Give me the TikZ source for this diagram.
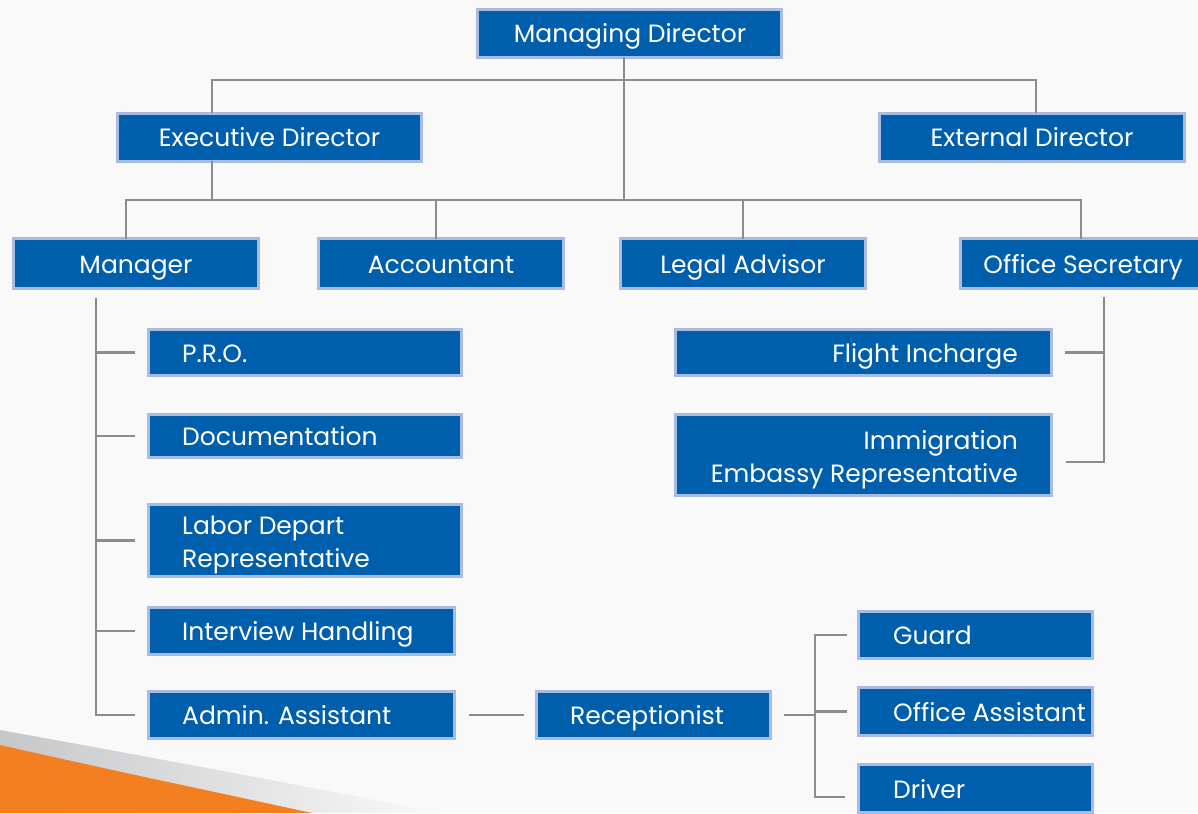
\documentclass[tikz,border=0pt]{standalone}
\usepackage{fontspec}
\setmainfont{Poppins}
\definecolor{bg}{HTML}{F9F9F9}
\definecolor{boxblue}{HTML}{005FAD}
\definecolor{boxborder}{HTML}{A8BBE0}
\definecolor{linegray}{HTML}{8C8C8C}
\definecolor{orng}{HTML}{F47F20}
\definecolor{swoosh}{HTML}{C6C7C9}
\begin{document}
\begin{tikzpicture}[x=1pt,y=-1pt,
  box/.style={draw=boxborder, line width=3pt, fill=boxblue, inner sep=0pt, outer sep=0pt},
  lbl/.style={text=white, font=\fontsize{25}{33}\selectfont, inner sep=0pt},
  conn/.style={draw=linegray, line width=2.5pt}]
\useasboundingbox (0,0) rectangle (1198,813);
\clip (0,0) rectangle (1198,813);
\fill[bg] (0,0) rectangle (1198,813);
% bottom-left decoration
\shade[left color=swoosh, right color=bg] (0,730) .. controls (150,757) and (300,785) .. (440,813) -- (0,813) -- cycle;
\fill[orng] (0,745) .. controls (110,770) and (220,793) .. (312,813) -- (0,813) -- cycle;

% boxes
\node[box, minimum width=304, minimum height=48] (md) at (629.5,33.5) {};
\node[box, minimum width=304, minimum height=48] (ed) at (269.5,137.5) {};
\node[box, minimum width=305, minimum height=48] (exd) at (1032,137.5) {};
\node[box, minimum width=245, minimum height=50] (mgr) at (136,263.5) {};
\node[box, minimum width=245, minimum height=50] (acc) at (441,263.5) {};
\node[box, minimum width=245, minimum height=50] (legal) at (743,263.5) {};
\node[box, minimum width=245, minimum height=50] (osec) at (1083,263.5) {};
\node[box, minimum width=313, minimum height=46] (pro) at (305,352.5) {};
\node[box, minimum width=313, minimum height=43] (doc) at (305,436) {};
\node[box, minimum width=313, minimum height=72] (lab) at (305,540.5) {};
\node[box, minimum width=306, minimum height=47] (ivh) at (301.5,631) {};
\node[box, minimum width=306, minimum height=47] (adm) at (301.5,715) {};
\node[box, minimum width=234, minimum height=47] (rec) at (653.5,715) {};
\node[box, minimum width=234, minimum height=47] (grd) at (975.5,635) {};
\node[box, minimum width=234, minimum height=48] (oas) at (975.5,711.5) {};
\node[box, minimum width=234, minimum height=48] (drv) at (975.5,788.5) {};
\node[box, minimum width=376, minimum height=46] (fli) at (863.5,352.5) {};
\node[box, minimum width=376, minimum height=81] (imm) at (863.5,455) {};

% labels
\node[lbl, anchor=base] (mdt) at (630,43) {Managing Director};
\node[lbl, anchor=base] (edt) at (269.5,147) {Executive Director};
\node[lbl, anchor=base] (exdt) at (1032,147) {External Director};
\node[lbl, anchor=base] (mgrt) at (136,273) {Manager};
\node[lbl, anchor=base] (acct) at (441,273) {Accountant};
\node[lbl, anchor=base] (legalt) at (743,273) {Legal Advisor};
\node[lbl, anchor=base] (osect) at (1083,273) {Office Secretary};
\node[lbl, anchor=base west] (prot) at (182,362) {P.R.O.};
\node[lbl, anchor=base west] (doct) at (182,445.5) {Documentation};
\node[lbl, anchor=base west] (labt1) at (182,534.5) {Labor Depart};
\node[lbl, anchor=base west] (labt2) at (182,567.5) {Representative};
\node[lbl, anchor=base west] (ivht) at (182,640.5) {Interview Handling};
\node[lbl, anchor=base west] (admt) at (182,724.5) {Admin. Assistant};
\node[lbl, anchor=base] (rect) at (647,724.5) {Receptionist};
\node[lbl, anchor=base west] (grdt) at (893,644.5) {Guard};
\node[lbl, anchor=base west] (oast) at (893,721) {Office Assistant};
\node[lbl, anchor=base west] (drvt) at (893,798) {Driver};
\node[lbl, anchor=base east] (flit) at (1018,362) {Flight Incharge};
\node[lbl, anchor=base east] (immt1) at (1018,449.5) {Immigration};
\node[lbl, anchor=base east] (immt2) at (1018,482.5) {Embassy Representative};

% connectors: top
\coordinate (t1) at (624,80);
\coordinate (t2) at (624,200);
\coordinate (a1) at (212,80);
\coordinate (a2) at (1036,80);
\coordinate (b0) at (212,200);
\coordinate (b1) at (126,200);
\coordinate (b2) at (436,200);
\coordinate (b3) at (743,200);
\coordinate (b4) at (1081,200);
\draw[conn] (t1 |- md.south) -- (t2);
\draw[conn] (a1 |- ed.north) -- (a1) -- (a2) -- (a2 |- exd.north);
\draw[conn] (b0 |- ed.south) -- (b0);
\draw[conn] (b1 |- mgr.north) -- (b1) -- (b4) -- (b4 |- osec.north);
\draw[conn] (b2) -- (b2 |- acc.north);
\draw[conn] (b3) -- (b3 |- legal.north);

% manager branch
\coordinate (c0) at (96,298);
\coordinate (c1) at (135,0);
\draw[conn] (c0) -- (c0 |- adm.west) -- (c1 |- adm.west);
\draw[conn] (c0 |- pro.west) -- (c1 |- pro.west);
\draw[conn] (c0 |- doc.west) -- (c1 |- doc.west);
\draw[conn] (c0 |- lab.west) -- (c1 |- lab.west);
\draw[conn] (c0 |- ivh.west) -- (c1 |- ivh.west);

% admin -> receptionist
\draw[conn] ([xshift=14pt]adm.east) -- ([xshift=-13pt]rec.west);

% receptionist branch
\coordinate (d0) at (815,0);
\coordinate (drvtick) at (845,797);
\draw[conn] ([xshift=13pt]rec.east) -- (d0 |- rec.east);
\draw[conn] ([xshift=-12pt]grd.west) -- (d0 |- grd.west) -- (d0 |- drvtick) -- (drvtick);
\draw[conn] (d0 |- oas.west) -- ([xshift=-12pt]oas.west);

% office secretary branch
\coordinate (e0) at (1104,297);
\coordinate (imtick) at (1066,462);
\draw[conn] (e0) -- (e0 |- imtick) -- (imtick);
\draw[conn] ([xshift=13pt]fli.east) -- (e0 |- fli.east);
\end{tikzpicture}
\end{document}
